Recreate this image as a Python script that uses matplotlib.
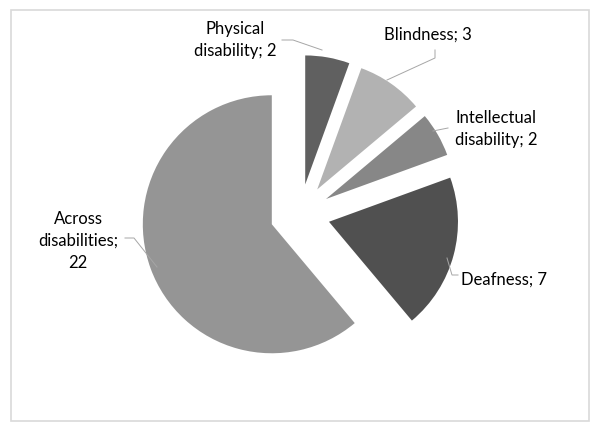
import matplotlib.pyplot as plt
from matplotlib.patches import Rectangle

# Data (clockwise from 12 o'clock)
labels = ["Physical\ndisability", "Blindness", "Intellectual\ndisability", "Deafness", "Across\ndisabilities"]
values = [2, 3, 2, 7, 22]
colors = ["#606060", "#b2b2b2", "#878787", "#505050", "#959595"]

# label anchor positions in pixel coords (x, y from top)
label_pos = [(235, 40), (428, 35), (496, 129), (504, 280), (78, 241)]
leader_lines = [
    [(282, 40), (293, 40), (322, 50)],
    [(435, 50), (435, 58), (387, 80)],
    [(448, 128), (433, 131)],
    [(458, 275), (452, 275), (447, 258)],
    [(125, 238), (134, 238), (157, 267)],
]

W, H = 600, 430
fig = plt.figure(figsize=(6, 4.3), dpi=100)
ax = fig.add_axes([0, 0, 1, 1])

# pie in pixel units: explode is an absolute offset here
ax.pie(
    values,
    colors=colors,
    startangle=90,
    counterclock=False,
    explode=[30] * len(values),
    radius=129,
    center=(300, H - 214),
    wedgeprops={"linewidth": 0},
)
ax.set_aspect("auto")
ax.set_xlim(0, W)
ax.set_ylim(0, H)
ax.axis("off")

# chart frame
ax.add_patch(Rectangle((11, H - 421), 578, 411, fill=False, edgecolor="#d9d9d9", linewidth=1.2))

# data labels
for lab, val, (px, py) in zip(labels, values, label_pos):
    if lab.startswith("Across"):
        text = f"{lab};\n{val}"
    else:
        text = f"{lab}; {val}"
    ax.text(px, H - py, text, ha="center", va="center", fontsize=12,
            family="Lato", color="#000000", linespacing=1.45)

for pts in leader_lines:
    xs = [p[0] for p in pts]
    ys = [H - p[1] for p in pts]
    ax.plot(xs, ys, color="#a6a6a6", linewidth=0.7)

fig.savefig("out.png", dpi=100)
